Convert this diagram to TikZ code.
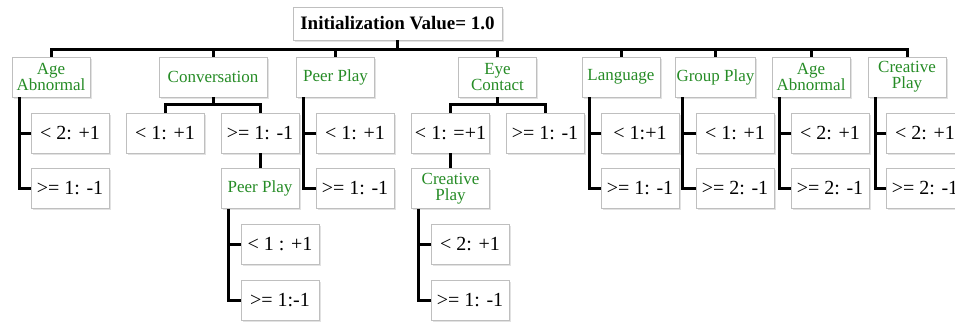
\documentclass[tikz,border=0pt]{standalone}
\usepackage{fontspec}
\setmainfont{Liberation Serif}
\usetikzlibrary{shadows}
\definecolor{attrgreen}{RGB}{38,140,38}

\begin{document}
\begin{tikzpicture}[x=1pt, y=-1pt,
    box/.style={draw=gray!50, fill=white, line width=0.7pt,
      drop shadow={shadow xshift=1.5pt, shadow yshift=-1.5pt, fill=gray!45},
      minimum height=40pt, minimum width=78pt, inner sep=1pt, align=center},
    attr/.style={box, text=attrgreen, font=\fontsize{17}{16}\selectfont},
    leaf/.style={box, font=\fontsize{20}{22}\selectfont},
    link/.style={line width=3pt}]
  \useasboundingbox (0,0) rectangle (955,324);
  % root and first level
  \node[box, minimum width=209pt, minimum height=33pt, font=\bfseries\fontsize{19}{21}\selectfont] (root) at (397.5,23.5) {Initialization Value= 1.0};
  \coordinate (bus) at (397.5,49);
  \node[attr] (age) at (51,77) {Age\\Abnormal};
  \node[attr, minimum width=108pt] (conv) at (213,77) {Conversation};
  \node[attr] (peer) at (335.5,77) {Peer Play};
  \node[attr] (eye) at (497.5,77) {Eye\\Contact};
  \node[attr] (lang) at (621,77) {Language};
  \node[attr] (group) at (715.5,77) {Group Play};
  \node[attr] (agetwo) at (811,77) {Age\\Abnormal};
  \node[attr] (creat) at (907,77) {Creative\\Play};
  \draw[link] (root.south) -- (bus);
  \foreach \n in {age,conv,peer,eye,lang,group,agetwo,creat}
    \draw[link] (bus) -| (\n.north);
  % Age Abnormal
  \node[leaf] (agelt) at (70,133) {< 2: +1};
  \node[leaf] (agege) at (70,188.5) {>= 1: -1};
  % Conversation
  \node[leaf] (convlt) at (165,133) {< 1: +1};
  \node[leaf] (convge) at (260,133) {>= 1: -1};
  \node[attr] (convpeer) at (260,188.5) {Peer Play};
  \node[leaf] (cplt) at (280,244.5) {< 1 : +1};
  \node[leaf] (cpge) at (280,300.5) {>= 1:-1};
  % Peer Play
  \node[leaf] (peerlt) at (355,133) {< 1: +1};
  \node[leaf] (peerge) at (355,188.5) {>= 1: -1};
  % Eye Contact
  \node[leaf] (eyelt) at (450.5,133) {< 1: =+1};
  \node[leaf] (eyege) at (545,133) {>= 1: -1};
  \node[attr] (eyecreat) at (450.5,188.5) {Creative\\Play};
  \node[leaf] (eclt) at (470,244.5) {< 2: +1};
  \node[leaf] (ecge) at (470,300.5) {>= 1: -1};
  % Language, Group Play, Age Abnormal, Creative Play
  \node[leaf] (langlt) at (640,133) {< 1:+1};
  \node[leaf] (langge) at (640,188.5) {>= 1: -1};
  \node[leaf] (grouplt) at (735,133) {< 1: +1};
  \node[leaf] (groupge) at (735,188.5) {>= 2: -1};
  \node[leaf] (agetwolt) at (830,133) {< 2: +1};
  \node[leaf] (agetwoge) at (830,188.5) {>= 2: -1};
  \node[leaf] (creatlt) at (925,133) {< 2: +1};
  \node[leaf] (creatge) at (925,188.5) {>= 2: -1};
  % split branches
  \draw[link] (conv.south) -- ++(0,7) -| (convlt.north);
  \draw[link] (conv.south) ++(0,7) -| (convge.north);
  \draw[link] (eye.south) -- ++(0,7) -| (eyelt.north);
  \draw[link] (eye.south) ++(0,7) -| (eyege.north);
  \draw[link] (convge) -- (convpeer);
  \draw[link] (eyelt) -- (eyecreat);
  % side branches
  \foreach \p/\a/\b in {age/agelt/agege, peer/peerlt/peerge, convpeer/cplt/cpge,
      eyecreat/eclt/ecge, lang/langlt/langge, group/grouplt/groupge,
      agetwo/agetwolt/agetwoge, creat/creatlt/creatge}{
    \draw[link] ([xshift=7.5pt]\p.south west) |- (\a.west);
    \draw[link] ([xshift=7.5pt]\p.south west) |- (\b.west);
  }
\end{tikzpicture}
\end{document}
